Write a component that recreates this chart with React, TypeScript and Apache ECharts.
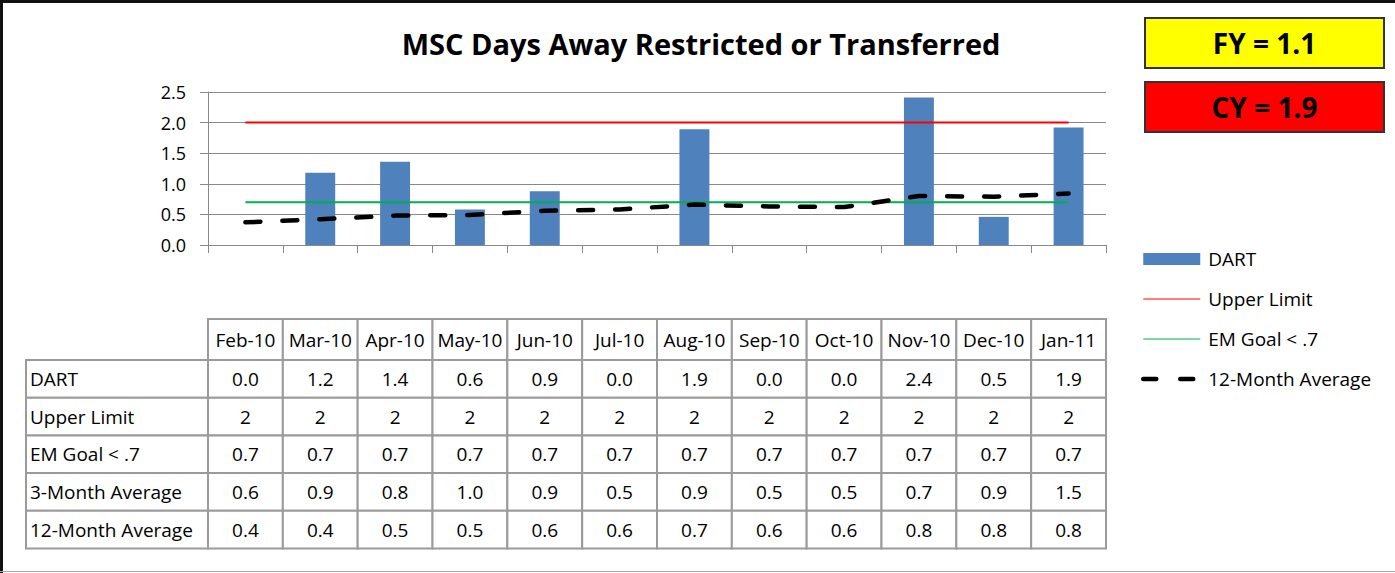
import React, { useEffect, useRef } from "react";
import * as echarts from "echarts";

const months = ["Feb-10", "Mar-10", "Apr-10", "May-10", "Jun-10", "Jul-10", "Aug-10", "Sep-10", "Oct-10", "Nov-10", "Dec-10", "Jan-11"];
const dart = [0, 1.18, 1.36, 0.58, 0.88, 0, 1.89, 0, 0, 2.41, 0.46, 1.92];
const upperLimit = [2, 2, 2, 2, 2, 2, 2, 2, 2, 2, 2, 2];
const emGoal = [0.7, 0.7, 0.7, 0.7, 0.7, 0.7, 0.7, 0.7, 0.7, 0.7, 0.7, 0.7];
const threeMonthAvg = [0.6, 0.9, 0.8, 1.0, 0.9, 0.5, 0.9, 0.5, 0.5, 0.7, 0.9, 1.5];
const twelveMonthAvg = [0.37, 0.42, 0.48, 0.49, 0.56, 0.58, 0.66, 0.63, 0.62, 0.8, 0.79, 0.84];
const yMin = 0;
const yMax = 2.5;
const yInterval = 0.5;
const titleText = "MSC Days Away Restricted or Transferred";
const fyText = "FY = 1.1";
const cyText = "CY = 1.9";

const FONT = "Open Sans";
const GRID = { left: 208, right: 289, top: 92, bottom: 328 };
const BORDER = "#9a9a9a";
const TXT = 19;

export default function App() {
  const ref = useRef<HTMLDivElement>(null);
  useEffect(() => {
    document.body.style.margin = "0";
    const chart = echarts.init(ref.current!, null, { renderer: "svg" });
    const hideSym = { opacity: 0 };
    chart.setOption({
      animation: false,
      backgroundColor: "#fff",
      textStyle: { fontFamily: FONT, color: "#000" },
      grid: GRID,
      legend: {
        orient: "vertical",
        left: 1141,
        top: 249,
        padding: 0,
        itemWidth: 57,
        itemHeight: 12,
        itemGap: 20,
        textStyle: { fontSize: TXT, lineHeight: 20, color: "#000", fontFamily: FONT, padding: [0, 0, 0, 3] },
        data: [
          { name: "DART", icon: "rect" },
          { name: "Upper Limit", lineStyle: { width: 1 }, itemStyle: hideSym },
          { name: "EM Goal < .7", lineStyle: { width: 1 }, itemStyle: hideSym },
          { name: "12-Month Average", lineStyle: { width: 4.5, type: [13, 24], cap: "round", color: "#000" }, itemStyle: hideSym },
        ],
      },
      xAxis: {
        type: "category",
        data: months,
        boundaryGap: true,
        axisLine: { lineStyle: { color: "#888", width: 1 } },
        axisTick: { show: true, length: 8, interval: 0, lineStyle: { color: "#888" } },
        axisLabel: { show: false },
        splitLine: { show: false },
      },
      yAxis: {
        type: "value",
        min: yMin,
        max: yMax,
        interval: yInterval,
        axisLine: { show: true, lineStyle: { color: "#888", width: 1 } },
        axisTick: { show: true, length: 8, lineStyle: { color: "#888" } },
        axisLabel: { margin: 22, fontSize: 18, color: "#000", fontFamily: FONT, formatter: (v: number) => v.toFixed(1) },
        splitLine: { show: true, lineStyle: { color: "#888", width: 1 } },
      },
      series: [
        {
          name: "DART",
          type: "bar",
          data: dart,
          barWidth: "40%",
          itemStyle: { color: "#4F81BD" },
          z: 1,
        },
        {
          name: "Upper Limit",
          type: "line",
          data: upperLimit,
          symbol: "none",
          lineStyle: { color: "#FF0000", width: 2 },
          z: 3,
        },
        {
          name: "EM Goal < .7",
          type: "line",
          data: emGoal,
          symbol: "none",
          lineStyle: { color: "#00B050", width: 2 },
          z: 3,
        },
        {
          name: "12-Month Average",
          type: "line",
          data: twelveMonthAvg,
          symbol: "none",
          lineStyle: { color: "#000", width: 4.5, type: [15, 22], cap: "round" },
          z: 4,
        },
      ],
    });

    const centers = months.map((_, i) => chart.convertToPixel({ xAxisIndex: 0 }, i) as number);
    const colW = centers[1] - centers[0];
    const headerTop = 319;
    const headerH = 41;
    const rowH = 37.7;
    const labelLeft = 26;
    const tableLeft = centers[0] - colW / 2;

    const rows: { label: string; values: string[] }[] = [
      { label: "DART", values: dart.map((v) => v.toFixed(1)) },
      { label: "Upper Limit", values: upperLimit.map((v) => String(v)) },
      { label: "EM Goal < .7", values: emGoal.map((v) => v.toFixed(1)) },
      { label: "3-Month Average", values: threeMonthAvg.map((v) => v.toFixed(1)) },
      { label: "12-Month Average", values: twelveMonthAvg.map((v) => v.toFixed(1)) },
    ];

    const g: any[] = [];
    const cell = (x: number, y: number, w: number, h: number) => ({
      type: "rect",
      shape: { x, y, width: w, height: h },
      style: { fill: "#fff", stroke: BORDER, lineWidth: 2 },
      z: 10,
    });
    const txt = (x: number, y: number, text: string, align: string, size = TXT, weight = "normal") => ({
      type: "text",
      x,
      y,
      style: { text, fill: "#000", font: `${weight} ${size}px "${FONT}"`, textAlign: align, textVerticalAlign: "middle" },
      z: 11,
    });

    months.forEach((m, i) => {
      g.push(cell(centers[i] - colW / 2, headerTop, colW, headerH));
      g.push(txt(centers[i], headerTop + headerH / 2, m, "center"));
    });
    rows.forEach((r, ri) => {
      const y = headerTop + headerH + ri * rowH;
      g.push(cell(labelLeft, y, tableLeft - labelLeft, rowH));
      g.push(txt(labelLeft + 4, y + rowH / 2, r.label, "left"));
      r.values.forEach((v, i) => {
        g.push(cell(centers[i] - colW / 2, y, colW, rowH));
        g.push(txt(centers[i], y + rowH / 2, v, "center"));
      });
    });

    // title
    g.push(txt(701, 43, titleText, "center", 29, "bold"));
    // FY / CY boxes
    g.push({ type: "rect", shape: { x: 1145, y: 18, width: 239, height: 50 }, style: { fill: "#FFFF00", stroke: "#333", lineWidth: 2 }, z: 10 });
    g.push(txt(1264.5, 43, fyText, "center", 28, "bold"));
    g.push({ type: "rect", shape: { x: 1145, y: 82, width: 239, height: 50 }, style: { fill: "#FF0000", stroke: "#333", lineWidth: 2 }, z: 10 });
    g.push(txt(1264.5, 107, cyText, "center", 28, "bold"));
    // frame
    g.push({ type: "rect", shape: { x: 0, y: 0, width: 1395, height: 3 }, style: { fill: "#111" }, z: 20 });
    g.push({ type: "rect", shape: { x: 0, y: 0, width: 3, height: 573 }, style: { fill: "#111" }, z: 20 });
    g.push({ type: "rect", shape: { x: 0, y: 571, width: 1395, height: 1 }, style: { fill: "#aaa" }, z: 20 });

    chart.setOption({ graphic: g });
    return () => chart.dispose();
  }, []);
  return <div ref={ref} style={{ width: 1395, height: 573 }} />;
}
